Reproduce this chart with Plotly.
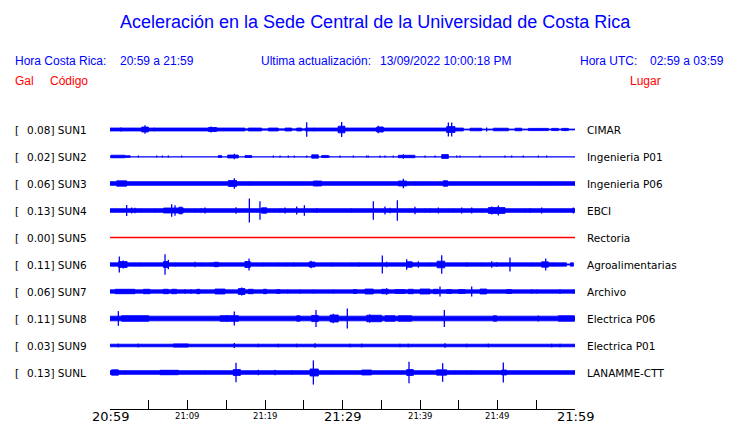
import plotly.graph_objects as go

# ---------------- data (minutes after 20:59, half-amplitude in Gal) ----------------
STATIONS = ["SUN1", "SUN2", "SUN3", "SUN4", "SUN5", "SUN6", "SUN7", "SUN8", "SUN9", "SUNL"]
PEAKS = ["0.08", "0.02", "0.06", "0.13", "0.00", "0.11", "0.06", "0.11", "0.03", "0.13"]
PLACES = ["CIMAR", "Ingenieria P01", "Ingenieria P06", "EBCI", "Rectoria",
          "Agroalimentarias", "Archivo", "Electrica P06", "Electrica P01", "LANAMME-CTT"]

TICK_MINUTES = [0, 5, 10, 15, 20, 25, 30, 35, 40, 45, 50, 55, 60]
TICK_LABELS = ["20:59", "", "21:09", "", "21:19", "", "21:29", "", "21:39", "", "21:49", "", "21:59"]
MAJOR_TICKS = ["20:59", "21:29", "21:59"]

SUN1_BANDS = [(0, 17.4, 0.016), (17.4, 25.2, 0.007), (17.85, 19.57, 0.016), (20.43, 21.72, 0.016),
              (22.58, 23.44, 0.016), (24.09, 24.73, 0.016), (25.2, 45.6, 0.016), (45.6, 60, 0.005),
              (46.45, 47.96, 0.014), (49.46, 51.4, 0.014), (52.26, 53.12, 0.014), (53.98, 56.56, 0.012),
              (56.99, 57.85, 0.012), (58.28, 59.14, 0.012), (4.09, 4.95, 0.027), (12.69, 13.76, 0.021),
              (29.46, 30.32, 0.036), (34.41, 35.27, 0.027), (43.44, 44.52, 0.032)]
SUN1_SPIKES = [(1.42, 0.021), (4.52, 0.046), (5.72, 0.018), (13.03, 0.032), (13.55, 0.025), (16.13, 0.014),
               (25.38, 0.079), (26.37, 0.018), (29.46, 0.029), (29.89, 0.08), (34.62, 0.039), (35.05, 0.029),
               (43.66, 0.075), (44.09, 0.075), (48.6, 0.021), (58.71, 0.014)]

SUN2_BANDS = [(0, 60, 0.004), (0.1, 1.9, 0.014), (1.9, 2.6, 0.009), (13.98, 14.41, 0.011),
              (15.18, 16.56, 0.016), (17.42, 18.28, 0.011), (26.02, 26.88, 0.018), (27.31, 28.17, 0.011),
              (37.2, 39.35, 0.013), (42.8, 43.66, 0.021)]
SUN2_SPIKES = [(3.66, 0.011), (6.02, 0.011), (6.75, 0.011), (7.53, 0.011), (9.25, 0.011), (16.04, 0.029),
               (21.08, 0.011), (21.94, 0.011), (23.01, 0.011), (23.78, 0.011), (25.38, 0.011), (27.74, 0.011),
               (28.26, 0.011), (29.68, 0.011), (31.4, 0.011), (33.12, 0.011), (33.33, 0.011), (34.84, 0.011),
               (35.48, 0.011), (36.56, 0.011), (37.85, 0.025), (40.65, 0.011), (41.94, 0.011), (44.73, 0.011),
               (45.16, 0.011), (47.74, 0.011), (50.97, 0.011), (51.83, 0.011), (53.33, 0.011), (55.27, 0.011),
               (56.34, 0.011)]

SUN3_BANDS = [(0, 60, 0.02), (0.86, 2.15, 0.029), (15.27, 16.34, 0.032), (26.24, 27.31, 0.027),
              (37.2, 38.28, 0.027), (43.01, 43.57, 0.03)]
SUN3_SPIKES = [(0.43, 0.018), (1.08, 0.029), (6.02, 0.014), (6.88, 0.014), (10.75, 0.014), (13.98, 0.014),
               (16.04, 0.057), (18.06, 0.021), (19.57, 0.014), (23.01, 0.014), (23.87, 0.018), (24.22, 0.018),
               (26.67, 0.029), (29.25, 0.014), (32.04, 0.014), (33.33, 0.014), (34.41, 0.014), (35.48, 0.014),
               (37.85, 0.05), (39.44, 0.021), (45.38, 0.014), (50.97, 0.014), (53.12, 0.014), (55.48, 0.018),
               (56.34, 0.018)]

SUN4_BANDS = [(0, 60, 0.02), (6.9, 9.46, 0.027), (8.9, 9.33, 0.036), (19.57, 20.22, 0.03),
              (48.82, 50.97, 0.032)]
SUN4_SPIKES = [(2.15, 0.06), (2.8, 0.032), (3.23, 0.029), (4.0, 0.018), (5.8, 0.018), (7.96, 0.068),
               (8.39, 0.057), (10.97, 0.018), (11.74, 0.021), (12.26, 0.032), (14.92, 0.014), (16.26, 0.036),
               (16.77, 0.018), (17.98, 0.13), (19.35, 0.1), (21.94, 0.021), (22.58, 0.032), (24.09, 0.043),
               (25.08, 0.057), (26.67, 0.025), (29.68, 0.011), (31.18, 0.021), (33.98, 0.1), (35.48, 0.043),
               (36.13, 0.029), (37.08, 0.11), (38.58, 0.018), (39.35, 0.039), (40.65, 0.021), (41.29, 0.021),
               (42.37, 0.032), (43.66, 0.018), (44.17, 0.018), (45.38, 0.032), (46.67, 0.032), (47.96, 0.018),
               (49.25, 0.043), (50.11, 0.054), (53.55, 0.018), (54.19, 0.025), (55.7, 0.032), (58.28, 0.018),
               (59.78, 0.032)]

SUN5_BANDS = []
SUN5_SPIKES = []

SUN6_BANDS = [(0, 58.9, 0.018), (58.9, 59.4, 0.006), (59.4, 59.8, 0.018), (1.1, 2.2, 0.032),
              (6.9, 7.5, 0.032), (13.4, 14.0, 0.024), (17.4, 18.1, 0.032), (25.68, 26.45, 0.027),
              (38.28, 39.0, 0.029), (42.2, 43.2, 0.036), (55.7, 56.56, 0.029)]
SUN6_SPIKES = [(1.2, 0.086), (1.72, 0.043), (2.15, 0.029), (3.23, 0.018), (3.78, 0.018), (7.1, 0.111),
               (7.53, 0.05), (8.39, 0.018), (10.97, 0.029), (11.83, 0.018), (13.03, 0.021), (13.63, 0.025),
               (17.55, 0.036), (17.94, 0.064), (19.78, 0.018), (21.72, 0.018), (22.8, 0.018), (23.74, 0.021),
               (25.94, 0.039), (28.6, 0.021), (29.89, 0.014), (31.18, 0.018), (32.13, 0.021), (35.14, 0.097),
               (35.7, 0.029), (38.28, 0.057), (38.71, 0.032), (39.78, 0.036), (41.29, 0.018), (42.8, 0.1),
               (46.02, 0.025), (47.96, 0.018), (49.25, 0.036), (49.89, 0.025), (51.61, 0.075), (52.47, 0.018),
               (54.41, 0.018), (56.22, 0.064), (57.2, 0.018)]

SUN7_BANDS = [(0, 60, 0.018), (0.65, 3.23, 0.024), (4.3, 5.16, 0.024), (6.88, 7.53, 0.024),
              (7.96, 8.6, 0.024), (11.18, 11.6, 0.024), (13.55, 14.84, 0.027), (16.56, 17.42, 0.032),
              (17.85, 18.49, 0.024), (19.78, 20.22, 0.024), (21.51, 21.94, 0.021), (31.4, 31.83, 0.021),
              (32.9, 33.98, 0.027), (35.05, 35.91, 0.024), (36.77, 38.06, 0.021), (38.49, 39.14, 0.024),
              (40.0, 41.29, 0.027), (41.72, 42.37, 0.024), (43.44, 44.09, 0.021), (44.95, 45.81, 0.021),
              (47.74, 48.6, 0.027), (51.18, 51.83, 0.021)]
SUN7_SPIKES = [(9.68, 0.025), (10.45, 0.025), (16.99, 0.043), (22.92, 0.021), (24.52, 0.021), (26.24, 0.021),
               (28.82, 0.021), (35.7, 0.036), (42.58, 0.054), (46.67, 0.054), (54.41, 0.025), (55.05, 0.021),
               (58.06, 0.025), (59.78, 0.021)]

SUN8_BANDS = [(0, 60, 0.025), (1.5, 5.0, 0.03), (14.2, 16.56, 0.03), (24.09, 24.52, 0.029),
              (26.02, 26.88, 0.033), (28.39, 29.46, 0.038), (33.12, 35.05, 0.035), (35.48, 36.77, 0.03),
              (37.2, 38.92, 0.029), (49.46, 49.89, 0.029), (57.85, 59.9, 0.029)]
SUN8_SPIKES = [(1.08, 0.079), (15.05, 0.036), (16.04, 0.075), (26.58, 0.09), (28.8, 0.05), (30.62, 0.107),
               (33.5, 0.045), (43.14, 0.09), (55.27, 0.032)]

SUN9_BANDS = [(0, 60, 0.014), (8.17, 10.1, 0.017)]
SUN9_SPIKES = [(1.08, 0.02), (3.66, 0.02), (16.04, 0.027), (19.14, 0.02), (21.72, 0.02), (24.09, 0.02),
               (26.45, 0.024), (30.97, 0.02), (32.47, 0.02), (37.42, 0.02), (38.49, 0.02), (43.23, 0.024),
               (46.02, 0.02), (48.82, 0.02), (56.99, 0.02), (58.06, 0.02)]

SUNL_BANDS = [(0, 60, 0.02), (0.2, 1.08, 0.029), (6.45, 8.82, 0.024), (15.9, 16.8, 0.032),
              (25.81, 26.88, 0.038), (32.47, 33.76, 0.027), (38.28, 39.14, 0.032), (42.15, 43.44, 0.029),
              (50.54, 51.18, 0.027)]
SUNL_SPIKES = [(1.94, 0.021), (12.26, 0.018), (16.26, 0.104), (16.77, 0.032), (19.14, 0.029), (21.29, 0.029),
               (23.44, 0.021), (26.24, 0.13), (28.6, 0.018), (38.58, 0.115), (42.92, 0.1), (44.52, 0.018),
               (46.67, 0.021), (50.75, 0.107), (52.04, 0.014), (53.55, 0.014), (56.34, 0.018), (58.28, 0.014)]

BANDS = [SUN1_BANDS, SUN2_BANDS, SUN3_BANDS, SUN4_BANDS, SUN5_BANDS,
         SUN6_BANDS, SUN7_BANDS, SUN8_BANDS, SUN9_BANDS, SUNL_BANDS]
SPIKES = [SUN1_SPIKES, SUN2_SPIKES, SUN3_SPIKES, SUN4_SPIKES, SUN5_SPIKES,
          SUN6_SPIKES, SUN7_SPIKES, SUN8_SPIKES, SUN9_SPIKES, SUNL_SPIKES]
DEAD_STATIONS = ["SUN5"]

# ---------------- layout constants ----------------
W, H = 740, 423
PL, PR, PT, PB = 110, 575, 115, 409      # plot area in pixels
ROW0_PX, ROW_PX = 129.5, 27              # first row centre and spacing in pixels
ROW_GAL = 0.29                            # vertical spacing between rows in Gal
BLUE = "#0000ff"
RED = "#ff0000"
TEXT_PAD = 2                              # annotation inner offset in pixels

y_top = (ROW0_PX - PT) / ROW_PX * ROW_GAL
y_bottom = y_top - (PB - PT) / ROW_PX * ROW_GAL


def px(x):
    return (x - TEXT_PAD - PL) / (PR - PL)


def py(y):
    return (PB - y) / (PB - PT)


fig = go.Figure()

for k, name in enumerate(STATIONS):
    c = -k * ROW_GAL
    if name in DEAD_STATIONS:
        fig.add_trace(go.Scatter(x=[TICK_MINUTES[0], TICK_MINUTES[-1]], y=[c, c], mode="lines",
                                 line=dict(color=RED, width=1.5), hoverinfo="skip", showlegend=False))
        continue
    bx, by = [], []
    for t0, t1, a in BANDS[k]:
        bx += [t0, t1, t1, t0, t0, None]
        by += [c - a, c - a, c + a, c + a, c - a, None]
    fig.add_trace(go.Scatter(x=bx, y=by, mode="lines", fill="toself", fillcolor=BLUE,
                             line=dict(color=BLUE, width=0.8), hoverinfo="skip", showlegend=False))
    sx, sy = [], []
    for t, a in SPIKES[k]:
        sx += [t, t, None]
        sy += [c - a, c + a, None]
    fig.add_trace(go.Scatter(x=sx, y=sy, mode="lines", line=dict(color=BLUE, width=1.3),
                             hoverinfo="skip", showlegend=False))

ann = []
LABEL_FONT = dict(family="DejaVu Sans", size=10.5, color="black")
for k, name in enumerate(STATIONS):
    yy = py(ROW0_PX + 0.5 + k * ROW_PX)
    ann.append(dict(x=px(15), y=yy, text="[", xanchor="left", font=LABEL_FONT))
    ann.append(dict(x=px(27), y=yy, text=f"{PEAKS[k]}] {name}", xanchor="left", font=LABEL_FONT))
    ann.append(dict(x=px(587), y=yy, text=PLACES[k], xanchor="left", font=LABEL_FONT))

SANS = "Liberation Sans, Arial, sans-serif"
HEAD_FONT = dict(family=SANS, size=12, color=BLUE)
RED_FONT = dict(family=SANS, size=12, color=RED)
ann += [
    dict(x=px(375 + TEXT_PAD), y=py(22), text="Aceleración en la Sede Central de la Universidad de Costa Rica",
         xanchor="center", font=dict(family=SANS, size=18, color=BLUE)),
    dict(x=px(15), y=py(61), text="Hora Costa Rica:", xanchor="left", font=HEAD_FONT),
    dict(x=px(120), y=py(61), text="20:59 a 21:59", xanchor="left", font=HEAD_FONT),
    dict(x=px(261), y=py(61), text="Ultima actualización:", xanchor="left", font=HEAD_FONT),
    dict(x=px(380), y=py(61), text="13/09/2022 10:00:18 PM", xanchor="left", font=HEAD_FONT),
    dict(x=px(580), y=py(61), text="Hora UTC:", xanchor="left", font=HEAD_FONT),
    dict(x=px(650), y=py(61), text="02:59 a 03:59", xanchor="left", font=HEAD_FONT),
    dict(x=px(15), y=py(80.5), text="Gal", xanchor="left", font=RED_FONT),
    dict(x=px(50), y=py(80.5), text="Código", xanchor="left", font=RED_FONT),
    dict(x=px(630), y=py(80.5), text="Lugar", xanchor="left", font=RED_FONT),
]
for a in ann:
    a.update(xref="paper", yref="paper", yanchor="middle", showarrow=False)

# time-axis labels, placed on the x data scale
for t, lab in zip(TICK_MINUTES, TICK_LABELS):
    if not lab:
        continue
    size = 13 if lab in MAJOR_TICKS else 8.5
    ann.append(dict(x=t, xref="x", y=py(416), yref="paper", text=lab, xanchor="center",
                    yanchor="middle", showarrow=False,
                    font=dict(family="DejaVu Sans", size=size, color="black")))

fig.update_layout(
    width=W, height=H,
    margin=dict(l=PL, r=W - PR, t=PT, b=H - PB, pad=0),
    paper_bgcolor="white", plot_bgcolor="white",
    annotations=ann,
    xaxis=dict(range=[TICK_MINUTES[0], TICK_MINUTES[-1]], tickmode="array", tickvals=TICK_MINUTES,
               showticklabels=False, ticks="inside", ticklen=9, tickwidth=1, tickcolor="black",
               showline=True, linecolor="black", linewidth=1, showgrid=False, zeroline=False,
               automargin=False, fixedrange=True),
    yaxis=dict(range=[y_bottom, y_top], visible=False, showgrid=False, zeroline=False,
               fixedrange=True),
)

fig.write_html("out.html", config={"displayModeBar": False},
               post_script="document.body.style.margin='0';document.body.style.padding='0';")
